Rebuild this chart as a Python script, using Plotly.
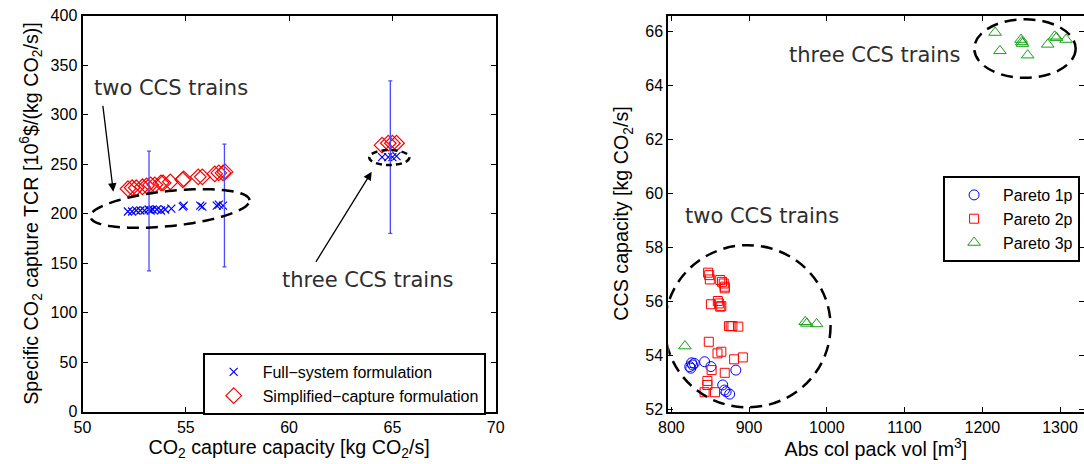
import numpy as np
import plotly.graph_objects as go

W, H = 1084, 464

# ---------------- data: left panel ----------------
full_x = [52.2, 52.4, 52.6, 52.8, 53.0, 53.2, 53.3, 53.4, 53.6, 53.8, 54.0, 54.3,
          54.85, 54.9, 55.7, 55.8, 56.5, 56.6, 56.8, 64.5, 64.8, 65.0, 65.2]
full_y = [202, 202, 203, 203, 203, 204, 203, 204, 204, 203, 204, 205,
          207, 208, 208, 207, 208, 209, 208, 257, 257, 257, 258]

simp_x = [52.2, 52.4, 52.6, 52.9, 53.1, 53.3, 53.5, 53.8, 53.9, 54.25, 54.85, 54.9,
          55.6, 55.8, 56.4, 56.6, 56.8, 56.9, 64.5, 64.8, 65.0, 65.2]
simp_y = [225, 226, 226, 227, 228, 229, 229, 231, 231, 232, 234, 235,
          237, 237, 240, 241, 241, 242, 269, 271, 271, 271]

err_x = [53.22, 56.87, 64.9]
err_mid = [203, 208, 257]
err_hi = [263, 270, 334]
err_lo = [142, 146, 180]

left_xticks = [50, 55, 60, 65, 70]
left_yticks = [0, 50, 100, 150, 200, 250, 300, 350, 400]

# ---------------- data: right panel ----------------
p1_x = [826, 823.7, 827.3, 829.5, 825, 842.8, 850.9, 883, 866.1, 868.3, 870.5, 875]
p1_y = [53.73, 53.59, 53.65, 53.71, 53.53, 53.77, 53.59, 53.46, 52.91, 52.72, 52.66, 52.57]

p2_x = [847.3, 848.7, 849.5, 862.9, 865.2, 867.4, 868.7, 868.7, 850.9, 859.8, 861.2,
        862.9, 864.3, 874.1, 876.3, 878.6, 886.2, 848.2, 859.4, 864.3, 880.8, 892,
        851.8, 868.7, 846.4, 846.4, 842.8, 856.2]
p2_y = [57.07, 56.98, 56.82, 56.8, 56.73, 56.67, 56.55, 56.49, 55.9, 56.02, 55.93,
        55.81, 55.83, 55.09, 55.09, 55.09, 55.07, 54.51, 54.08, 54.14, 53.86, 53.93,
        53.46, 53.36, 53.06, 52.91, 52.64, 52.64]

p3_x = [817.5, 972.2, 974.4, 986.9, 1216.5, 1222.7, 1249.9, 1250.8, 1251.7, 1258.4,
        1284.2, 1293.1, 1295.4, 1307.8]
p3_y = [54.35, 55.25, 55.19, 55.17, 65.97, 65.29, 65.71, 65.62, 65.56, 65.13,
        65.53, 65.83, 65.78, 65.71]

right_xticks = [800, 900, 1000, 1100, 1200, 1300]
right_yticks = [52, 54, 56, 58, 60, 62, 64, 66]

# ---------------- styling helpers ----------------
FONT = "Liberation Sans, Arial, sans-serif"
ANN_FONT = "DejaVu Sans, Verdana, sans-serif"
BLUE = "#0000ff"
RED = "#ff0000"
GREEN = "#16a016"


def px(x):
    return x / W


def py(y):
    return (H - y) / H


L_X0, L_X1 = 82.5, 495.7
R_X0, R_X1 = 668.3, 1083.5
Y_TOP, Y_BOT = 15.5, 411.5

fig = go.Figure()

# left panel traces
fig.add_trace(go.Scatter(
    x=full_x, y=full_y, mode="markers", name="Full\u2212system formulation",
    marker=dict(symbol="x-thin-open", size=8, line=dict(color=BLUE, width=1.2), color=BLUE),
    xaxis="x", yaxis="y", legend="legend"))
fig.add_trace(go.Scatter(
    x=simp_x, y=simp_y, mode="markers", name="Simplified\u2212capture formulation",
    marker=dict(symbol="diamond-open", size=12, line=dict(color=RED, width=1.2), color=RED),
    xaxis="x", yaxis="y", legend="legend"))
fig.add_trace(go.Scatter(
    x=err_x, y=err_mid, mode="markers", showlegend=False, hoverinfo="skip",
    marker=dict(size=1, color="rgba(0,0,0,0)"),
    error_y=dict(type="data", symmetric=False,
                 array=[h - m for h, m in zip(err_hi, err_mid)],
                 arrayminus=[m - l for m, l in zip(err_mid, err_lo)],
                 color="#4a4aff", thickness=1.3, width=2),
    xaxis="x", yaxis="y"))

# right panel traces
fig.add_trace(go.Scatter(
    x=p1_x, y=p1_y, mode="markers", name="Pareto 1p",
    marker=dict(symbol="circle-open", size=10, line=dict(color=BLUE, width=1), color=BLUE),
    xaxis="x2", yaxis="y2", legend="legend2"))
fig.add_trace(go.Scatter(
    x=p2_x, y=p2_y, mode="markers", name="Pareto 2p",
    marker=dict(symbol="square-open", size=9, line=dict(color=RED, width=1), color=RED),
    xaxis="x2", yaxis="y2", legend="legend2"))
fig.add_trace(go.Scatter(
    x=p3_x, y=p3_y, mode="markers", name="Pareto 3p",
    marker=dict(symbol="triangle-up-open", size=11, line=dict(color=GREEN, width=1), color=GREEN),
    xaxis="x2", yaxis="y2", legend="legend2"))

axis_common = dict(
    showline=True, linecolor="black", linewidth=2, mirror="ticks",
    ticks="inside", ticklen=5, tickwidth=1.3, tickcolor="black",
    showgrid=False, zeroline=False, automargin=False,
    tickfont=dict(family=FONT, size=16, color="black"),
    title_font=dict(family=FONT, size=19.7, color="black"),
)

fig.update_layout(
    template="none",
    width=W, height=H, margin=dict(l=0, r=0, t=0, b=0, autoexpand=False),
    paper_bgcolor="white", plot_bgcolor="white",
    xaxis=dict(axis_common, domain=[px(L_X0), px(L_X1)], range=[50, 70],
               tickvals=left_xticks, anchor="y",
               title=dict(text="CO<sub>2</sub> capture capacity [kg CO<sub>2</sub>/s]", standoff=3)),
    yaxis=dict(axis_common, domain=[py(Y_BOT), py(Y_TOP)], range=[0, 400],
               tickvals=left_yticks, anchor="x",
               title=dict(text="Specific CO<sub>2</sub> capture TCR [10<sup>6</sup>$/(kg CO<sub>2</sub>/s)]",
                          standoff=7)),
    xaxis2=dict(axis_common, domain=[px(R_X0), px(R_X1)], range=[796.1, 1330.2],
                tickvals=right_xticks, anchor="y2",
                title=dict(text="Abs col pack vol [m<sup>3</sup>]", standoff=4)),
    yaxis2=dict(axis_common, domain=[py(Y_BOT), py(Y_TOP)], range=[51.926, 66.6],
                tickvals=right_yticks, anchor="x2",
                title=dict(text="CCS capacity [kg CO<sub>2</sub>/s]", standoff=11)),
    legend=dict(x=px(202.7), y=py(353), xanchor="left", yanchor="top",
                bgcolor="white", bordercolor="black", borderwidth=2,
                font=dict(family=FONT, size=16, color="black"),
                itemwidth=48, tracegroupgap=0),
    legend2=dict(x=px(943.1), y=py(176), xanchor="left", yanchor="top",
                 bgcolor="white", bordercolor="black", borderwidth=2,
                 font=dict(family=FONT, size=16, color="black"),
                 itemwidth=48, tracegroupgap=0),
    showlegend=True,
)

# ---------------- decorations: dashed ellipses ----------------
DASH = "12px,7px"
x_scale_l = (L_X1 - L_X0) / 20.0        # px per unit (left x)
y_scale_l = (Y_BOT - Y_TOP) / 400.0     # px per unit (left y)


def tilted_ellipse_path(cx, cy, a_px, b_px, theta_deg, xs, ys, n=120):
    th = np.radians(theta_deg)
    t = np.linspace(0, 2 * np.pi, n, endpoint=False)
    dx = a_px * np.cos(t) * np.cos(th) - b_px * np.sin(t) * np.sin(th)
    dy = a_px * np.cos(t) * np.sin(th) + b_px * np.sin(t) * np.cos(th)
    xs_ = cx + dx / xs
    ys_ = cy + dy / ys
    pts = [f"{a:.4f},{b:.4f}" for a, b in zip(xs_, ys_)]
    return "M" + " L".join(pts) + " Z"


fig.add_shape(type="path", xref="x", yref="y",
              path=tilted_ellipse_path(54.235, 205.05, 80, 17.5, 6, x_scale_l, y_scale_l),
              line=dict(color="black", width=2.5, dash=DASH))
fig.add_shape(type="circle", xref="x", yref="y", x0=63.88, x1=65.82, y0=249, y1=264.1,
              line=dict(color="black", width=2.5, dash="6px,4px"))
fig.add_shape(type="circle", xref="x2", yref="y2", x0=791.6, x1=1004.8, y0=52.08, y1=58.09,
              line=dict(color="black", width=2.5, dash=DASH))
fig.add_shape(type="circle", xref="x2", yref="y2", x0=1189.7, x1=1320.1, y0=64.29, y1=66.46,
              line=dict(color="black", width=2.5, dash=DASH))

# ---------------- annotations ----------------
ann_font = dict(family=ANN_FONT, size=21, color="#2e2e2e")
for txt, cx, cy in [("two CCS trains", 171, 88), ("three CCS trains", 367, 280),
                    ("three CCS trains", 874, 55), ("two CCS trains", 762, 216.5)]:
    fig.add_annotation(text=txt, x=px(cx), y=py(cy), xref="paper", yref="paper",
                       showarrow=False, font=ann_font, xanchor="center", yanchor="middle")

for (hx, hy), (tx, ty) in [((113.3, 191.7), (102.7, 104.3)), ((371.7, 171.7), (315, 263.3))]:
    fig.add_annotation(text="", x=px(hx), y=py(hy), xref="paper", yref="paper",
                       showarrow=True, ax=tx - hx, ay=ty - hy, axref="pixel", ayref="pixel",
                       arrowhead=2, arrowsize=1.3, arrowwidth=1.3, arrowcolor="black", standoff=0)

fig.write_html("out.html")
